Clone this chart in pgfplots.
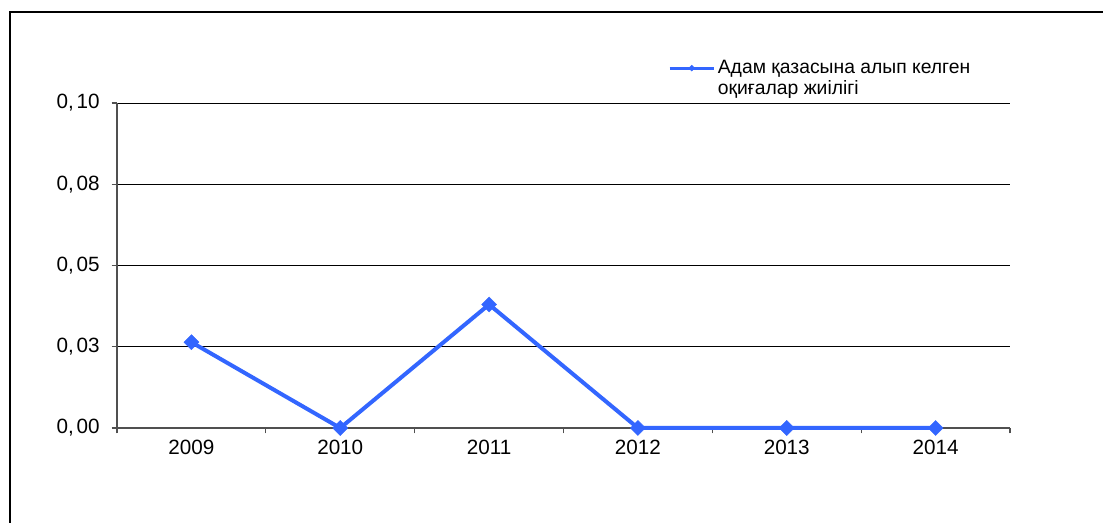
\documentclass[border=0pt]{standalone}
\usepackage{fontspec}
\setmainfont{Liberation Sans}
\usepackage{pgfplots}
\pgfplotsset{compat=1.18}

\definecolor{lineblue}{RGB}{51,102,255}
\definecolor{axisgrey}{RGB}{80,80,80}

\begin{document}
\begin{tikzpicture}
  % canvas 1103x523 px at 0.75pt per px; outer frame (left and top edges visible)
  \useasboundingbox (0,0) rectangle (827.25pt,392.25pt);
  \draw[line width=1pt,black] (7.5pt,0pt) -- (7.5pt,383.25pt) -- (827.25pt,383.25pt);

  \begin{axis}[
      at={(87.75pt,71.25pt)}, anchor=south west,
      scale only axis,
      width=669.75pt, height=243.75pt,
      xmin=-0.5, xmax=5.5,
      ymin=0, ymax=0.1,
      xtick={0,1,2,3,4,5},
      xticklabels={2009,2010,2011,2012,2013,2014},
      minor xtick={-0.5,0.5,1.5,2.5,3.5,4.5,5.5},
      major x tick style={draw=none},
      ytick={0,0.025,0.05,0.075,0.1},
      yticklabels={{0,\hspace{2pt}00},{0,\hspace{2pt}03},{0,\hspace{2pt}05},{0,\hspace{2pt}08},{0,\hspace{2pt}10}},
      /pgf/number format/assume math mode=true,
      tick align=outside,
      tick style={axisgrey, line width=0.8pt},
      major tick length=4pt, minor tick length=4pt,
      axis x line*=bottom, axis y line*=left,
      axis line style={axisgrey, line width=0.8pt, -},
      ymajorgrids,
      grid style={black, line width=0.6pt},
      ticklabel style={font=\fontsize{15.5}{17}\selectfont},
      xticklabel style={yshift=-1.5pt},
      yticklabel style={xshift=-5.5pt},
      legend style={at={(0.6125,1.148)}, anchor=north west, draw=none, fill=none,
        cells={align=left}, font=\fontsize{14.5}{15.8}\selectfont},
      legend image code/.code={%
        \path (0cm,-7.9pt) (0cm,7.9pt);
        \draw[yshift=7.9pt,mark repeat=2,mark phase=2] plot coordinates {(0cm,0cm) (0.58cm,0cm) (1.16cm,0cm)};},
      legend image post style={line width=2.2pt, mark size=1.6pt},
      clip=false,
    ]
    \addplot[lineblue, line width=3pt, mark=square*, mark size=4pt,
      mark options={solid, rotate=45, fill=lineblue, draw=lineblue, line width=0.3pt}]
      table {
        x y
        0 0.0264
        1 0
        2 0.038
        3 0
        4 0
        5 0
      };
    \addlegendentry{Адам қазасына алып келген\\оқиғалар жиілігі}
  \end{axis}
\end{tikzpicture}
\end{document}
